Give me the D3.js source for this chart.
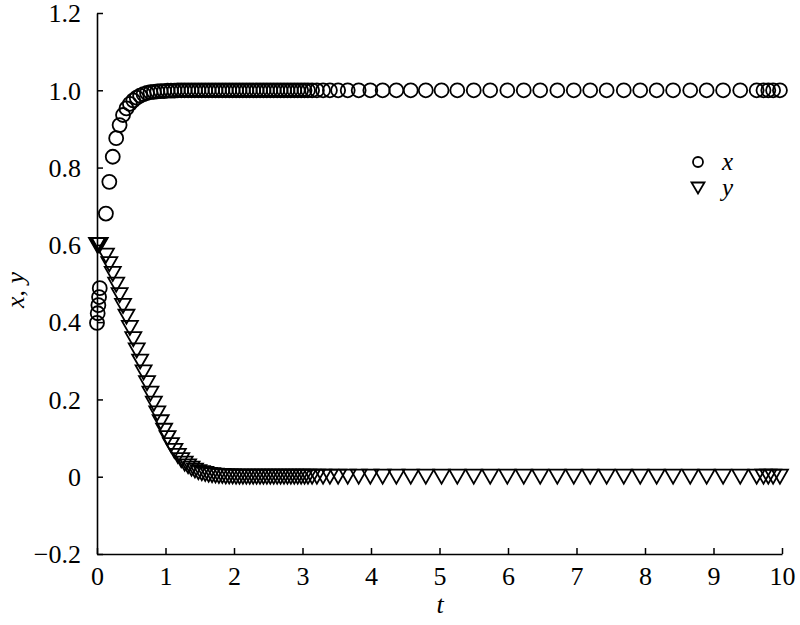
<!DOCTYPE html>
<html><head><meta charset="utf-8">
<script src="https://cdn.jsdelivr.net/npm/d3@7/dist/d3.min.js"></script>
<style>body{margin:0;background:#fff;} svg{display:block;} text{font-family:"Liberation Serif","DejaVu Serif","Tinos","Times New Roman","Noto Serif",serif;}</style>
</head><body>
<svg id="c" width="800" height="625"></svg>
<script>
// time points of the solution
const tVals = [0, 0.01, 0.02, 0.03, 0.04,
  0.13, 0.18, 0.23, 0.28, 0.33, 0.38, 0.43, 0.48, 0.53, 0.58, 0.63, 0.68, 0.73, 0.78, 0.83, 0.88,
  0.93, 0.98, 1.03, 1.08, 1.13, 1.18, 1.23, 1.28, 1.33, 1.38, 1.43, 1.48, 1.53, 1.58, 1.63, 1.68,
  1.73, 1.78, 1.83, 1.88, 1.93, 1.98, 2.03, 2.08, 2.13, 2.18, 2.23, 2.28, 2.33, 2.38, 2.43, 2.48,
  2.53, 2.58, 2.63, 2.68, 2.73, 2.78, 2.83, 2.88, 2.93, 2.98, 3.03, 3.08,
  3.14, 3.21, 3.30, 3.40, 3.52, 3.66, 3.82, 3.99, 4.17, 4.37, 4.58, 4.80, 5.03, 5.26,
  5.50, 5.74, 5.99, 6.23, 6.47, 6.72, 6.96, 7.20, 7.44, 7.69, 7.93, 8.17, 8.41, 8.66, 8.90, 9.14,
  9.39, 9.63, 9.73, 9.80, 9.87, 9.97];
// x series values
const xVals = [0.398, 0.423, 0.444, 0.465, 0.488,
  0.681, 0.763, 0.828, 0.876, 0.910, 0.936, 0.953, 0.965, 0.974, 0.981, 0.986, 0.990, 0.993, 0.995, 0.996, 0.997,
  0.998, 0.998, 0.999, 0.999, 0.999, 1.0, 1.0, 1.0, 1.0, 1.0, 1.0, 1.0, 1.0, 1.0, 1.0, 1.0,
  1.0, 1.0, 1.0, 1.0, 1.0, 1.0, 1.0, 1.0, 1.0, 1.0, 1.0, 1.0, 1.0, 1.0, 1.0, 1.0,
  1.0, 1.0, 1.0, 1.0, 1.0, 1.0, 1.0, 1.0, 1.0, 1.0, 1.0, 1.0,
  1.0, 1.0, 1.0, 1.0, 1.0, 1.0, 1.0, 1.0, 1.0, 1.0, 1.0, 1.0, 1.0, 1.0,
  1.0, 1.0, 1.0, 1.0, 1.0, 1.0, 1.0, 1.0, 1.0, 1.0, 1.0, 1.0, 1.0, 1.0, 1.0, 1.0,
  1.0, 1.0, 1.0, 1.0, 1.0, 1.0];
// y series values
const yVals = [0.600, 0.600, 0.600, 0.600, 0.600,
  0.572, 0.550, 0.525, 0.497, 0.470, 0.442, 0.414, 0.385, 0.356, 0.327, 0.298, 0.270, 0.242, 0.215, 0.189, 0.164,
  0.141, 0.119, 0.100, 0.082, 0.067, 0.054, 0.043, 0.034, 0.027, 0.021, 0.016, 0.012, 0.009, 0.007, 0.005, 0.004,
  0.003, 0.002, 0.002, 0.001, 0.001, 0.001, 0.0, 0.0, 0.0, 0.0, 0.0, 0.0, 0.0, 0.0, 0.0, 0.0,
  0.0, 0.0, 0.0, 0.0, 0.0, 0.0, 0.0, 0.0, 0.0, 0.0, 0.0, 0.0,
  0.0, 0.0, 0.0, 0.0, 0.0, 0.0, 0.0, 0.0, 0.0, 0.0, 0.0, 0.0, 0.0, 0.0,
  0.0, 0.0, 0.0, 0.0, 0.0, 0.0, 0.0, 0.0, 0.0, 0.0, 0.0, 0.0, 0.0, 0.0, 0.0, 0.0,
  0.0, 0.0, 0.0, 0.0, 0.0, 0.0];
const xTicks = [0, 1, 2, 3, 4, 5, 6, 7, 8, 9, 10];
const yTicks = [-0.2, 0, 0.2, 0.4, 0.6, 0.8, 1.0, 1.2];
const yTickLabels = ["\u22120.2", "0", "0.2", "0.4", "0.6", "0.8", "1.0", "1.2"];
const seriesNames = ["x", "y"];

const svg = d3.select("#c");
const X = d3.scaleLinear().domain([0, 10]).range([97, 782]);
const Y = d3.scaleLinear().domain([-0.2, 1.2]).range([554, 13]);
const font = '"Liberation Serif", "DejaVu Serif", Tinos, "Times New Roman", "Noto Serif", serif';

// axes
const xAxis = d3.axisBottom(X).tickValues(xTicks).tickSizeInner(-6).tickSizeOuter(0).tickPadding(13).tickFormat(d3.format("d"));
const gx = svg.append("g").attr("transform", `translate(0,${Y(-0.2)})`).call(xAxis);
const yAxis = d3.axisLeft(Y).tickValues(yTicks).tickSizeInner(-6).tickSizeOuter(0).tickPadding(16)
  .tickFormat((d, i) => yTickLabels[i]);
const gy = svg.append("g").attr("transform", `translate(${X(0)},0)`).call(yAxis);
[gx, gy].forEach(g => {
  g.attr("font-family", null).attr("font-size", null);
  g.select(".domain").attr("stroke", "#000").attr("stroke-width", 1.6);
  g.selectAll(".tick line").attr("stroke", "#000").attr("stroke-width", 1.5);
  g.selectAll("text").style("font-family", font).style("font-size", "26px").attr("fill", "#000");
});
gx.selectAll("text").attr("dy", "0.71em");
gy.selectAll("text").attr("dy", "0.34em");

// axis titles
svg.append("text").attr("x", 440).attr("y", 613).attr("text-anchor", "middle")
  .style("font-family", font).style("font-style", "italic").style("font-size", "26px").text("t");
svg.append("text").attr("transform", "translate(24,290) rotate(-90)").attr("text-anchor", "middle")
  .style("font-family", font).style("font-size", "26px")
  .html('<tspan font-style="italic">x</tspan>, <tspan font-style="italic">y</tspan>');

const data = tVals.map((t, i) => ({t, x: xVals[i], y: yVals[i]}));
const tri = (w, h) => `M${-w/2},${-h/2}L${w/2},${-h/2}L0,${h/2}Z`;

// x series: circles
svg.append("g").selectAll("circle").data(data).join("circle")
  .attr("cx", d => X(d.t)).attr("cy", d => Y(d.x)).attr("r", 7)
  .attr("fill", "none").attr("stroke", "#000").attr("stroke-width", 1.8);
// y series: inverted triangles
svg.append("g").selectAll("path").data(data).join("path")
  .attr("transform", d => `translate(${X(d.t)},${Y(d.y)})`).attr("d", tri(16, 14))
  .attr("fill", "none").attr("stroke", "#000").attr("stroke-width", 1.8).attr("stroke-linejoin", "miter");

// legend
const lg = svg.append("g");
lg.append("circle").attr("cx", 698).attr("cy", 162).attr("r", 5).attr("fill", "none").attr("stroke", "#000").attr("stroke-width", 1.8);
lg.append("path").attr("transform", "translate(698,188)").attr("d", tri(13, 11))
  .attr("fill", "none").attr("stroke", "#000").attr("stroke-width", 1.8);
lg.selectAll("text").data(seriesNames).join("text")
  .attr("x", 722).attr("y", (d, i) => 162 + i * 26).attr("dy", "0.3em")
  .style("font-family", font).style("font-style", "italic").style("font-size", "25px").text(d => d);
</script>
</body></html>
